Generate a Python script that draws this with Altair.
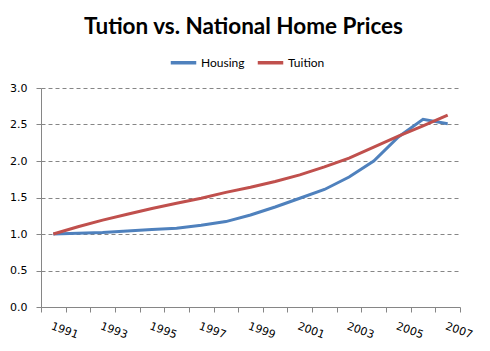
import altair as alt
import pandas as pd

years = list(range(1991, 2008))
housing = [1.00, 1.01, 1.02, 1.04, 1.06, 1.08, 1.12, 1.17, 1.26, 1.37, 1.49, 1.61, 1.78, 2.00, 2.33, 2.57, 2.51]
tuition = [1.00, 1.10, 1.19, 1.27, 1.35, 1.42, 1.49, 1.57, 1.64, 1.72, 1.81, 1.92, 2.04, 2.19, 2.34, 2.48, 2.63]
series_names = ["Housing", "Tuition"]
colors = ["#4F81BD", "#C0504D"]
y_ticks = [0.0, 0.5, 1.0, 1.5, 2.0, 2.5, 3.0]

rows = []
for name, vals in zip(series_names, [housing, tuition]):
    for yr, v in zip(years, vals):
        rows.append({"year": yr, "series": name, "value": v})
df = pd.DataFrame(rows)

edges = [y - 0.5 for y in years] + [years[-1] + 0.5]
axis_gray = "#868686"

chart = alt.Chart(df).mark_line(strokeWidth=3).encode(
    x=alt.X("year:Q",
            scale=alt.Scale(domain=[edges[0], edges[-1]], nice=False, zero=False),
            axis=alt.Axis(values=edges,
                          labelExpr="((datum.value + 0.5) % 2 == 1) ? '' + (datum.value + 0.5) : ''",
                          labelAngle=20, labelAlign="left", labelBaseline="top",
                          labelOffset=12, labelPadding=8, labelOverlap=False, labelFlush=False,
                          tickSize=5, tickColor=axis_gray, domainColor=axis_gray,
                          grid=False, title=None, labelFont="DejaVu Sans",
                          labelFontSize=11, labelColor="black")),
    y=alt.Y("value:Q",
            scale=alt.Scale(domain=[0, 3], nice=False),
            axis=alt.Axis(values=y_ticks, format=".1f", grid=True, gridDash=[4, 3],
                          gridColor=axis_gray, gridOpacity=1, tickSize=5, tickColor=axis_gray,
                          domainColor=axis_gray, labelPadding=9, title=None,
                          labelFont="DejaVu Sans", labelFontSize=11, labelColor="black")),
    color=alt.Color("series:N",
                    scale=alt.Scale(domain=series_names, range=colors),
                    legend=alt.Legend(orient="none", legendX=128, legendY=-40,
                                      direction="horizontal", title=None,
                                      symbolType="stroke", symbolSize=650,
                                      symbolStrokeWidth=3.5, labelFont="Lato",
                                      labelFontSize=12, labelColor="black",
                                      columnPadding=5, labelOffset=3)),
).properties(
    width=419, height=219,
    padding={"left": 41, "top": 88, "right": 30, "bottom": 44},
    autosize="none",
    title=alt.Title("Tution vs. National Home Prices", font="Lato", fontSize=22.5,
                    fontWeight="bold", color="black", anchor="middle",
                    baseline="alphabetic", offset=-8, dx=-7),
).configure_view(stroke=None)

chart.save("out.html", embed_options={"renderer": "svg", "actions": False})
